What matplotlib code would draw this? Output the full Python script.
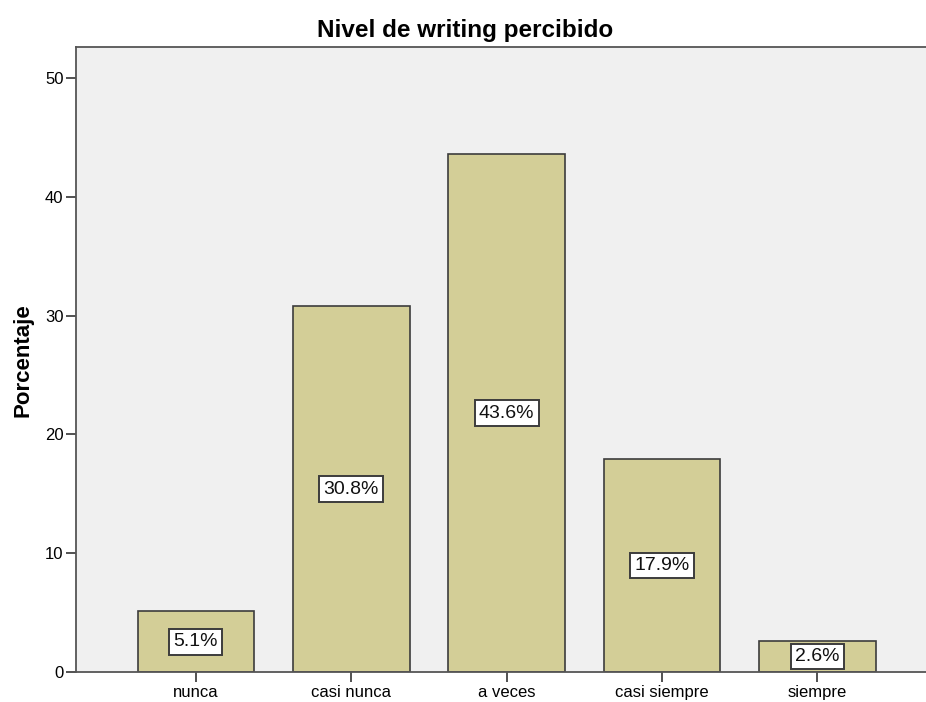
import matplotlib.pyplot as plt

plt.rcParams['font.family'] = ['Liberation Sans', 'DejaVu Sans']

# data
categorias = ['nunca', 'casi nunca', 'a veces', 'casi siempre', 'siempre']
porcentaje = [5.1, 30.8, 43.6, 17.9, 2.6]
yticks = [0, 10, 20, 30, 40, 50]

fig = plt.figure(figsize=(9.26, 7.02), dpi=100)
ax = fig.add_axes([0.0821, 0.0427, 0.930, 0.890])
ax.set_facecolor('#F0F0F0')

x = list(range(len(categorias)))
ax.bar(x, porcentaje, width=0.75, color='#D3CE97', edgecolor='#3C3C3C', linewidth=1.2, zorder=2)

for xi, v in zip(x, porcentaje):
    ax.text(xi, v / 2, f'{v:.1f}%', ha='center', va='center', fontsize=14, color='#111111', zorder=3,
            bbox=dict(boxstyle='square,pad=0.22', facecolor='white', edgecolor='#3C3C3C', linewidth=1.4))

ax.set_xlim(-0.772, 4.772)
ax.set_ylim(0, 52.6)
ax.set_xticks(x)
ax.set_xticklabels(categorias, fontsize=12)
ax.set_yticks(yticks)
ax.set_yticklabels([str(t) for t in yticks], fontsize=12)
ax.tick_params(axis='both', direction='out', length=7, width=1.2, color='#333333', pad=2)

for s in ax.spines.values():
    s.set_color('#555555')
    s.set_linewidth(1.3)

ax.set_ylabel('Porcentaje', fontsize=16, fontweight='bold', labelpad=8)
fig.text(0.502, 0.957, 'Nivel de writing percibido', ha='center', va='center', fontsize=17.5, fontweight='bold')

fig.savefig('out.png', dpi=100)
